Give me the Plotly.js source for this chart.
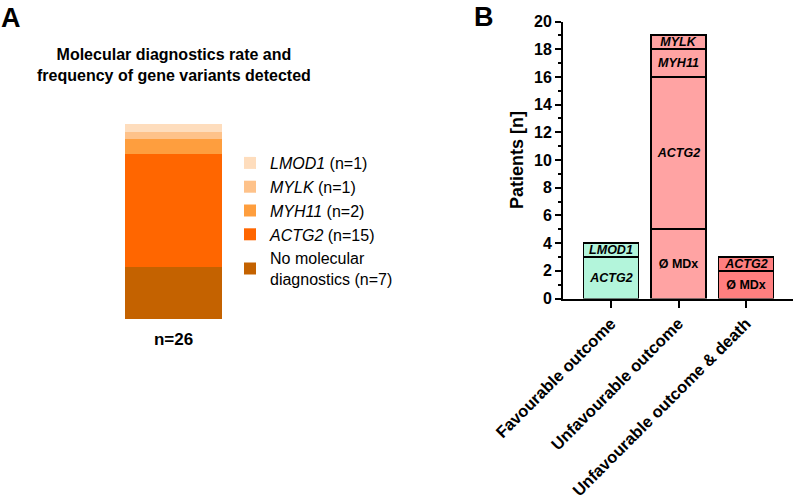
<!DOCTYPE html>
<html>
<head>
<meta charset="utf-8">
<script src="https://cdn.plot.ly/plotly-3.0.1.min.js"></script>
<style>html,body{margin:0;padding:0;background:#fff;}#chart{width:794px;height:498px;}</style>
</head>
<body>
<div id="chart"></div>
<script>
// ---------- Panel A data ----------
const aCategory = ['n=26'];
const aGenes = ['No molecular<br>diagnostics', 'ACTG2', 'MYH11', 'MYLK', 'LMOD1'];
const aCounts = [7, 15, 2, 1, 1];
const aItalic = [false, true, true, true, true];
const aColors = ['#C46200', '#FF6600', '#FE9E3E', '#FEC28A', '#FEDDBD'];

// ---------- Panel B data ----------
const outcomes = ['Favourable outcome', 'Unfavourable outcome', 'Unfavourable outcome & death'];
const outcomeColors = ['#B3F5DB', '#FFA3A3', '#FF7F7F'];
const layer1Labels = ['ACTG2', 'Ø MDx', 'Ø MDx'];
const layer1Values = [3, 5, 2];
const layer2Labels = ['LMOD1', 'ACTG2', 'ACTG2'];
const layer2Values = [1, 11, 1];
const layer3Labels = [null, 'MYH11', null];
const layer3Values = [null, 2, null];
const layer4Labels = [null, 'MYLK', null];
const layer4Values = [null, 1, null];

const yTickVals = [0, 2, 4, 6, 8, 10, 12, 14, 16, 18, 20];

const FONT = 'Arial, "Liberation Sans", sans-serif';
const traces = [];

// Panel A stacked bar
aGenes.forEach((g, i) => {
  const label = aItalic[i] ? `<i>${g}</i>` : g;
  traces.push({
    type: 'bar', x: aCategory, y: [aCounts[i]],
    xaxis: 'x2', yaxis: 'y2', width: 1,
    name: `${label} (n=${aCounts[i]})`,
    marker: {color: aColors[i], line: {width: 0}},
    hoverinfo: 'skip'
  });
});

// Panel B stacked bars
function fmt(l) {
  if (l === null) return '';
  return l.startsWith('Ø') ? `<b>${l}</b>` : `<b><i>${l}</i></b>`;
}
[[layer1Values, layer1Labels], [layer2Values, layer2Labels], [layer3Values, layer3Labels], [layer4Values, layer4Labels]].forEach(([vals, labs]) => {
  traces.push({
    type: 'bar', x: outcomes, y: vals, xaxis: 'x', yaxis: 'y',
    width: 0.815, showlegend: false,
    text: labs.map(fmt), textposition: 'inside', insidetextanchor: 'middle',
    constraintext: 'none', textangle: 0,
    insidetextfont: {family: FONT, size: 12.5, color: '#000'},
    marker: {color: outcomeColors, line: {color: '#000', width: 1.8}},
    hoverinfo: 'skip'
  });
});

const W = 794, H = 498;
const layout = {
  width: W, height: H,
  margin: {l: 0, r: 0, t: 0, b: 0},
  paper_bgcolor: '#fff', plot_bgcolor: 'rgba(0,0,0,0)',
  barmode: 'stack',
  font: {family: FONT, color: '#000'},
  showlegend: true,
  legend: {
    x: 230 / W, y: 1 - 146 / H, xanchor: 'left', yanchor: 'top',
    traceorder: 'reversed',
    font: {family: FONT, size: 16, color: '#000'},
    bgcolor: 'rgba(0,0,0,0)'
  },
  xaxis: {
    domain: [563 / W, 793 / W], range: [-0.711, 2.696],
    showline: true, linewidth: 2, linecolor: '#000',
    ticks: 'outside', ticklen: 7, tickwidth: 2, tickcolor: '#000',
    tickangle: -45, tickfont: {family: FONT, size: 16.5, weight: 700},
    showgrid: false, zeroline: false, fixedrange: true
  },
  yaxis: {
    domain: [(H - 298.5) / H, (H - 21.5) / H], range: [0, 20],
    showline: true, linewidth: 2, linecolor: '#000',
    ticks: 'outside', ticklen: 6, tickwidth: 2, tickcolor: '#000',
    tickmode: 'array', tickvals: yTickVals,
    minor: {dtick: 1, ticks: 'outside', ticklen: 3, tickwidth: 2, tickcolor: '#000'},
    tickfont: {family: FONT, size: 16, weight: 700},
    title: {text: 'Patients [n]', font: {family: FONT, size: 18, weight: 700}, standoff: 6},
    showgrid: false, zeroline: false, fixedrange: true
  },
  xaxis2: {
    domain: [125 / W, 222 / W], range: [-0.5, 0.5], anchor: 'y2',
    showline: false, ticks: '', showgrid: false, zeroline: false,
    ticklabelstandoff: 8,
    tickfont: {family: FONT, size: 17, weight: 700}, fixedrange: true
  },
  yaxis2: {
    domain: [(H - 319) / H, (H - 124) / H], range: [0, 26], anchor: 'x2',
    visible: false, fixedrange: true
  },
  annotations: [
    {text: '<b>A</b>', x: -1 / W, y: 1 - 1 / H, xref: 'paper', yref: 'paper', xanchor: 'left', yanchor: 'top', showarrow: false, font: {size: 27}},
    {text: '<b>B</b>', x: 472 / W, y: 1 - 0 / H, xref: 'paper', yref: 'paper', xanchor: 'left', yanchor: 'top', showarrow: false, font: {size: 27}},
    {text: '<b>Molecular diagnostics rate and<br>frequency of gene variants detected</b>', x: 174 / W, y: 1 - 64.5 / H, xref: 'paper', yref: 'paper', xanchor: 'center', yanchor: 'middle', showarrow: false, font: {size: 16}}
  ]
};

Plotly.newPlot('chart', traces, layout, {staticPlot: true, displayModeBar: false});
</script>
</body>
</html>
